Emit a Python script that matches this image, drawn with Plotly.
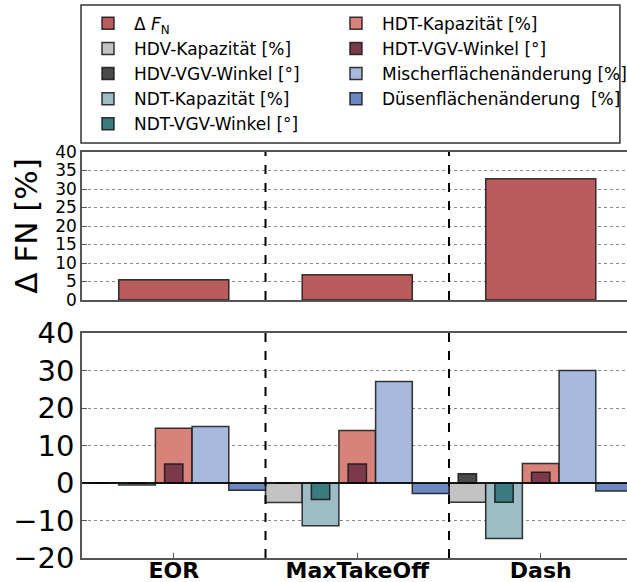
import plotly.graph_objects as go

categories = ["EOR", "MaxTakeOff", "Dash"]

delta_fn = [5.5, 6.8, 32.8]

hdv_kap = [0.1, -5.2, -5.1]
hdv_vgv = [0.0, 0.0, 2.5]
ndt_kap = [-0.5, -11.4, -14.8]
ndt_vgv = [0.0, -4.4, -5.1]
hdt_kap = [14.6, 14.0, 5.2]
hdt_vgv = [5.1, 5.1, 2.9]
mischer = [15.1, 27.1, 30.0]
duesen = [-1.9, -2.8, -2.1]

top_ticks = [0, 5, 10, 15, 20, 25, 30, 35, 40]
bottom_ticks = [-20, -10, 0, 10, 20, 30, 40]

FONT = "DejaVu Sans"
EDGE = dict(color="rgba(20,20,20,0.85)", width=1.5)

fig = go.Figure()

# top panel
fig.add_trace(go.Bar(x=categories, y=delta_fn, name="Δ <i>F</i><sub>N</sub>",
                     marker=dict(color="#b95c5d", line=EDGE), width=0.6, offset=-0.3,
                     xaxis="x2", yaxis="y2", legend="legend", legendrank=1))

# bottom panel: wide bars
wide = [
    ("HDV-Kapazität [%]", hdv_kap, "#c2c2c2", -0.5, "legend", 2),
    ("NDT-Kapazität [%]", ndt_kap, "#9dbcc6", -0.3, "legend", 4),
    ("HDT-Kapazität [%]", hdt_kap, "#d8837a", -0.1, "legend2", 1),
    ("Mischerflächenänderung [%]", mischer, "#a7b9dc", 0.1, "legend2", 3),
    ("Düsenflächenänderung  [%]", duesen, "#6d88c0", 0.3, "legend2", 4),
]
for name, vals, col, off, lg, rank in wide:
    fig.add_trace(go.Bar(x=categories, y=vals, name=name, width=0.2, offset=off,
                         marker=dict(color=col, line=EDGE), xaxis="x", yaxis="y",
                         legend=lg, legendrank=rank))

narrow = [
    ("HDV-VGV-Winkel [°]", hdv_vgv, "#4a4a4a", -0.45, "legend", 3),
    ("NDT-VGV-Winkel [°]", ndt_vgv, "#3a7a80", -0.25, "legend", 5),
    ("HDT-VGV-Winkel [°]", hdt_vgv, "#7b3a4c", -0.05, "legend2", 2),
]
for name, vals, col, off, lg, rank in narrow:
    fig.add_trace(go.Bar(x=categories, y=vals, name=name, width=0.1, offset=off,
                         marker=dict(color=col, line=EDGE), xaxis="x", yaxis="y",
                         legend=lg, legendrank=rank))

# separators
for xa, ya in (("x", "y"), ("x2", "y2")):
    for xv in (0.5, 1.5):
        fig.add_shape(type="line", xref=xa, yref=ya + " domain", x0=xv, x1=xv, y0=0, y1=1,
                      line=dict(color="black", width=2, dash="dash"))

# legend frame
fig.add_shape(type="rect", xref="paper", yref="paper", x0=-0.0018, x1=0.987,
              y0=0.7543, y1=0.9914, line=dict(color="#333333", width=1.5),
              fillcolor="rgba(0,0,0,0)", layer="above")

frame = "#555555"
xcommon = dict(type="category", range=[-0.5, 2.47], showline=True, mirror=True,
               linecolor=frame, linewidth=1.5, showgrid=False, automargin=False)
ycommon = dict(showline=True, linecolor=frame, linewidth=1.5, showgrid=True,
               gridcolor="#888888", griddash="dot", gridwidth=1, ticks="inside",
               ticklen=5, tickcolor=frame, automargin=False, zeroline=False)

legend_common = dict(orientation="v", yanchor="top", xanchor="left", y=0.99,
                     bgcolor="rgba(0,0,0,0)", borderwidth=0, itemwidth=42,
                     font=dict(family=FONT, size=17), traceorder="normal")

fig.update_layout(
    width=627, height=582,
    margin=dict(l=82, r=0, t=0, b=0, autoexpand=False),
    paper_bgcolor="white", plot_bgcolor="white",
    barmode="overlay",
    font=dict(family=FONT, color="black"),
    xaxis=dict(**xcommon, domain=[0, 1], anchor="y", ticks="inside", ticklen=5,
               tickcolor=frame, ticklabelstandoff=-8,
               tickfont=dict(family=FONT, size=22, weight="bold")),
    yaxis=dict(**ycommon, domain=[0.0412, 0.4278], anchor="x", range=[-20, 40],
               tickvals=bottom_ticks, tickfont=dict(family=FONT, size=29)),
    xaxis2=dict(**xcommon, domain=[0, 1], anchor="y2", showticklabels=False, ticks=""),
    yaxis2=dict(**ycommon, domain=[0.4845, 0.7388], anchor="x2", range=[0, 40],
                tickvals=top_ticks, tickfont=dict(family=FONT, size=17)),
    legend=dict(**legend_common, x=0),
    legend2=dict(**legend_common, x=0.455),
    annotations=[dict(text="Δ FN [%]", textangle=-90, xref="paper", yref="paper",
                      x=-0.103, y=0.612, xanchor="center", yanchor="middle",
                      showarrow=False, font=dict(family=FONT, size=31))],
)

fig.add_hline(y=0, line=dict(color="black", width=1.5), xref="x", yref="y")

fig.write_html("out.html")
